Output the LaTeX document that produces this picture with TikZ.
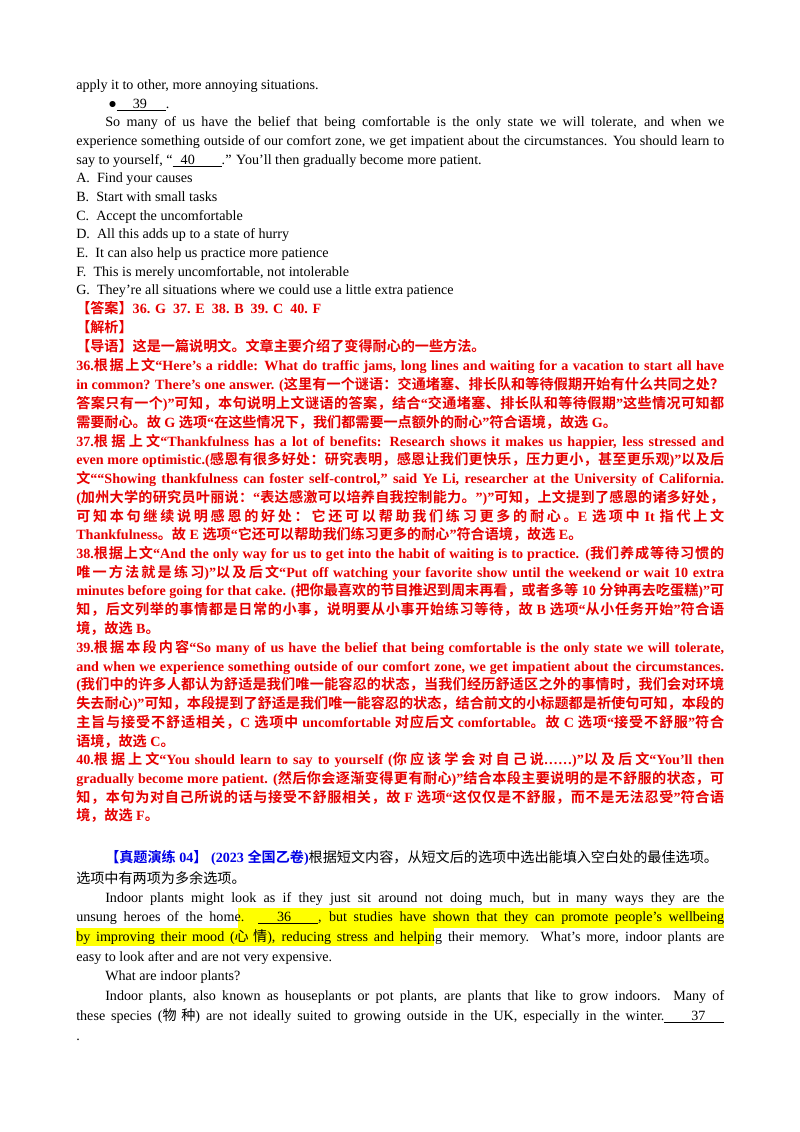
\documentclass[tikz,border=0pt]{standalone}
\usepackage{fontspec}
\setmainfont{Liberation Serif}
\newfontfamily\latfont{Liberation Serif}
\newfontfamily\cjkfont{Noto Sans CJK SC}[BoldFont={Noto Sans CJK SC Bold}]
\XeTeXinterchartokenstate=1
\newXeTeXintercharclass\CJKcls
\newcount\mycnt
\mycnt="3000
\loop \XeTeXcharclass\mycnt=\CJKcls \ifnum\mycnt<"9FFF \advance\mycnt 1 \repeat
\mycnt="FF00
\loop \XeTeXcharclass\mycnt=\CJKcls \ifnum\mycnt<"FFEF \advance\mycnt 1 \repeat
\XeTeXinterchartoks 0 \CJKcls = {\cjkfont}
\XeTeXinterchartoks 4095 \CJKcls = {\cjkfont}
\XeTeXinterchartoks \CJKcls 0 = {\latfont}
\XeTeXinterchartoks \CJKcls 4095 = {\latfont}
\XeTeXinterchartoks \CJKcls \CJKcls = {\hskip 0pt plus 0.25em\relax}
\definecolor{ansred}{RGB}{230,0,0}
\definecolor{hdblue}{RGB}{0,0,230}
\definecolor{hl}{RGB}{255,255,0}
\newlength\tw \tw=482.1pt
\newlength\iw \iw=460.5pt
\newcommand{\jl}[1]{\makebox[\tw][s]{#1}}
\newcommand{\ji}[1]{\makebox[\iw][s]{#1}}
\newcommand{\blank}[3]{\underline{\hspace{#1}#2\hspace{#3}}}
\tikzset{ln/.style={anchor=base west,inner sep=0pt,font=\fontsize{10.5pt}{12pt}\selectfont},
 rd/.style={ln,text=ansred,font=\fontsize{10.5pt}{12pt}\selectfont\bfseries}}
\begin{document}
\begin{tikzpicture}[x=0.744pt,y=-0.744pt]
\useasboundingbox (0,0) rectangle (800,1132);
\fill[white] (0,0) rectangle (800,1132);
\fill[hl] (238,908) rectangle (724,927.5);
\fill[hl] (76,927.5) rectangle (434,946);
\node[ln] (l1) at (76,89) {apply it to other, more annoying situations.};
\node[ln] (l2) at (108,108) {●\blank{12pt}{39}{14pt}.};
\node[ln] (l3) at (105,126) {\ji{So many of us have the belief that being comfortable is the only state we will tolerate, and when we}};
\node[ln] (l4) at (76,145) {\jl{experience something outside of our comfort zone, we get impatient about the circumstances. You should learn to}};
\node[ln] (l5) at (76,164) {say to yourself, “\blank{6pt}{40}{20pt}.” You’ll then gradually become more patient.};
\node[ln] (oa) at (76,182) {A.\ \ Find your causes};
\node[ln] (ob) at (76,201) {B.\ \ Start with small tasks};
\node[ln] (oc) at (76,220) {C.\ \ Accept the uncomfortable};
\node[ln] (od) at (76,238) {D.\ \ All this adds up to a state of hurry};
\node[ln] (oe) at (76,257) {E.\ \ It can also help us practice more patience};
\node[ln] (of) at (76,276) {F.\ \ This is merely uncomfortable, not intolerable};
\node[ln] (og) at (76,294) {G.\ \ They’re all situations where we could use a little extra patience};
\node[rd] (ans) at (76,313) {【答案】36. G\ \ 37. E\ \ 38. B\ \ 39. C\ \ 40. F};
\node[rd] (jx) at (76,332) {【解析】};
\node[rd] (r1) at (76,351) {【导语】这是一篇说明文。文章主要介绍了变得耐心的一些方法。};
\node[rd] (r2) at (76,370) {\jl{36.根据上文“Here’s a riddle: What do traffic jams, long lines and waiting for a vacation to start all have}};
\node[rd] (r3) at (76,389) {\jl{in common? There’s one answer. (这里有一个谜语：交通堵塞、排长队和等待假期开始有什么共同之处？}};
\node[rd] (r4) at (76,408) {\jl{答案只有一个)”可知，本句说明上文谜语的答案，结合“交通堵塞、排长队和等待假期”这些情况可知都}};
\node[rd] (r5) at (76,427) {需要耐心。故 G 选项“在这些情况下，我们都需要一点额外的耐心”符合语境，故选 G。};
\node[rd] (r6) at (76,446) {\jl{37.根据上文“Thankfulness has a lot of benefits: Research shows it makes us happier, less stressed and}};
\node[rd] (r7) at (76,464) {\jl{even more optimistic.(感恩有很多好处：研究表明，感恩让我们更快乐，压力更小，甚至更乐观)”以及后}};
\node[rd] (r8) at (76,483) {\jl{文““Showing thankfulness can foster self-control,” said Ye Li, researcher at the University of California.}};
\node[rd] (r9) at (76,502) {\jl{(加州大学的研究员叶丽说：“表达感激可以培养自我控制能力。”)”可知，上文提到了感恩的诸多好处，}};
\node[rd] (r10) at (76,521) {\jl{可知本句继续说明感恩的好处：它还可以帮助我们练习更多的耐心。E 选项中 It 指代上文}};
\node[rd] (r11) at (76,539) {Thankfulness。故 E 选项“它还可以帮助我们练习更多的耐心”符合语境，故选 E。};
\node[rd] (r12) at (76,558) {\jl{38.根据上文“And the only way for us to get into the habit of waiting is to practice. (我们养成等待习惯的}};
\node[rd] (r13) at (76,577) {\jl{唯一方法就是练习)”以及后文“Put off watching your favorite show until the weekend or wait 10 extra}};
\node[rd] (r14) at (76,595) {\jl{minutes before going for that cake. (把你最喜欢的节目推迟到周末再看，或者多等 10 分钟再去吃蛋糕)”可}};
\node[rd] (r15) at (76,614) {\jl{知，后文列举的事情都是日常的小事，说明要从小事开始练习等待，故 B 选项“从小任务开始”符合语}};
\node[rd] (r16) at (76,633) {境，故选 B。};
\node[rd] (r17) at (76,652) {\jl{39.根据本段内容“So many of us have the belief that being comfortable is the only state we will tolerate,}};
\node[rd] (r18) at (76,671) {\jl{and when we experience something outside of our comfort zone, we get impatient about the circumstances.}};
\node[rd] (r19) at (76,689) {\jl{(我们中的许多人都认为舒适是我们唯一能容忍的状态，当我们经历舒适区之外的事情时，我们会对环境}};
\node[rd] (r20) at (76,708) {\jl{失去耐心)”可知，本段提到了舒适是我们唯一能容忍的状态，结合前文的小标题都是祈使句可知，本段的}};
\node[rd] (r21) at (76,727) {\jl{主旨与接受不舒适相关，C 选项中 uncomfortable 对应后文 comfortable。故 C 选项“接受不舒服”符合}};
\node[rd] (r22) at (76,746) {语境，故选 C。};
\node[rd] (r23) at (76,764) {\jl{40.根据上文“You should learn to say to yourself (你应该学会对自己说……)”以及后文“You’ll then}};
\node[rd] (r24) at (76,783) {\jl{gradually become more patient. (然后你会逐渐变得更有耐心)”结合本段主要说明的是不舒服的状态，可}};
\node[rd] (r25) at (76,802) {\jl{知，本句为对自己所说的话与接受不舒服相关，故 F 选项“这仅仅是不舒服，而不是无法忍受”符合语}};
\node[rd] (r26) at (76,820) {境，故选 F。};
\node[ln] (b1) at (105,862) {{\color{hdblue}\bfseries 【真题演练 04】\ (2023 全国乙卷)}根据短文内容，从短文后的选项中选出能填入空白处的最佳选项。};
\node[ln] (b2) at (76,883) {选项中有两项为多余选项。};
\node[ln] (b3) at (105,902) {\ji{Indoor plants might look as if they just sit around not doing much, but in many ways they are the}};
\node[ln] (b4) at (76,921) {\jl{unsung heroes of the home. \blank{14pt}{36}{20pt}, but studies have shown that they can promote people’s wellbeing}};
\node[ln] (b5) at (76,941) {\jl{by improving their mood (心情), reducing stress and helping their memory.\ \ What’s more, indoor plants are}};
\node[ln] (b6) at (76,961) {easy to look after and are not very expensive.};
\node[ln] (b7) at (105,980) {What are indoor plants?};
\node[ln] (b8) at (105,1000) {\ji{Indoor plants, also known as houseplants or pot plants, are plants that like to grow indoors. Many of}};
\node[ln] (b9) at (76,1020) {\jl{these species (物种) are not ideally suited to growing outside in the UK, especially in the winter.\blank{20pt}{37}{14pt}}};
\node[ln] (b10) at (76,1040) {.};
\end{tikzpicture}
\end{document}
